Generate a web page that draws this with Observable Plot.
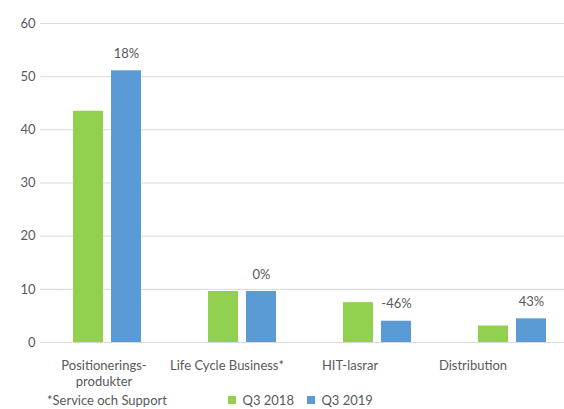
<!DOCTYPE html>
<html><head><meta charset="utf-8">
<script src="https://cdn.jsdelivr.net/npm/d3@7"></script>
<script src="https://cdn.jsdelivr.net/npm/@observablehq/plot@0.6"></script>
<style>
body{margin:0;background:#fff;font-family:Lato,sans-serif;}
#chart{width:564px;height:409px;position:relative;overflow:hidden;background:#fff;}
#chart svg{display:block;}
#chart svg.overlay{position:absolute;left:0;top:0;background:transparent !important;}
#foot{position:absolute;left:0;top:391px;width:564px;height:18px;font-size:13px;color:#595959;}
#note{position:absolute;left:47px;top:0;line-height:18px;white-space:nowrap;}
#leg{position:absolute;left:228px;top:0;}
#leg > div{min-height:18px !important;margin:0 !important;line-height:18px;}
</style></head><body><div id="chart"></div>
<script>
const categories = ["Positionerings-\nprodukter", "Life Cycle Business*", "HIT-lasrar", "Distribution"];
const series = ["Q3 2018", "Q3 2019"];
const q3_2018 = [43.5, 9.6, 7.5, 3.1];
const q3_2019 = [51.1, 9.6, 4.0, 4.45];
const changeLabels = ["18%", "0%", "-46%", "43%"];
const yTicks = [0, 10, 20, 30, 40, 50, 60];
const footnote = "*Service och Support";
const colors = ["#92D050", "#5B9BD5"];

const rows = [];
categories.forEach((c, i) => {
  rows.push({category: c, series: series[0], value: q3_2018[i]});
  rows.push({category: c, series: series[1], value: q3_2019[i], label: changeLabels[i]});
});
const labelRows = rows.filter(d => d.label != null);

const textColor = "#595959";
const font = {fontFamily: "Lato, sans-serif", fontSize: "13px", color: textColor, background: "#fff"};

// Bars, grid, y axis and value labels
const plot = Plot.plot({
  width: 564,
  height: 391,
  marginLeft: 40,
  marginRight: -16,
  marginTop: 23,
  marginBottom: 49,
  style: font,
  fx: {domain: categories, padding: 0, label: null, axis: null},
  x: {domain: series, axis: null, paddingInner: 0.207, paddingOuter: 0.848},
  y: {domain: [0, 60], label: null, axis: null},
  color: {domain: series, range: colors},
  marks: [
    Plot.gridY(yTicks, {stroke: "#d9d9d9", strokeOpacity: 1, strokeWidth: 1}),
    Plot.axisY(yTicks, {tickSize: 0, tickPadding: 5, fill: textColor, fontSize: 13, label: null}),
    Plot.barY(rows, {fx: "category", x: "series", y: "value", fill: "series"}),
    Plot.text(labelRows, {fx: "category", x: "series", y: "value", text: "label", dy: -17, fill: textColor, fontSize: 13})
  ]
});
const chart = document.getElementById("chart");
chart.appendChild(plot);

// Category axis (the original's category labels sit on a slightly narrower band)
const catAxis = Plot.plot({
  width: 564,
  height: 391,
  marginLeft: 40,
  marginRight: 29,
  marginTop: 23,
  marginBottom: 49,
  style: {fontFamily: "Lato, sans-serif", fontSize: "13px", color: textColor, background: "transparent"},
  x: {type: "band", domain: categories, padding: 0, label: null, axis: null},
  marks: [
    Plot.axisX({anchor: "bottom", tickSize: 0, tickPadding: 15, fill: textColor, fontSize: 13, lineHeight: 1.3, label: null})
  ]
});
catAxis.classList.add("overlay");
chart.appendChild(catAxis);

const foot = document.createElement("div");
foot.id = "foot";
const note = document.createElement("div");
note.id = "note";
note.textContent = footnote;
foot.appendChild(note);
const leg = document.createElement("div");
leg.id = "leg";
leg.appendChild(Plot.legend({
  color: {domain: series, range: colors},
  legend: "swatches",
  swatchSize: 8,
  style: {fontFamily: "Lato, sans-serif", fontSize: "13px", color: textColor, margin: 0}
}));
foot.appendChild(leg);
chart.appendChild(foot);
</script>
</body></html>
